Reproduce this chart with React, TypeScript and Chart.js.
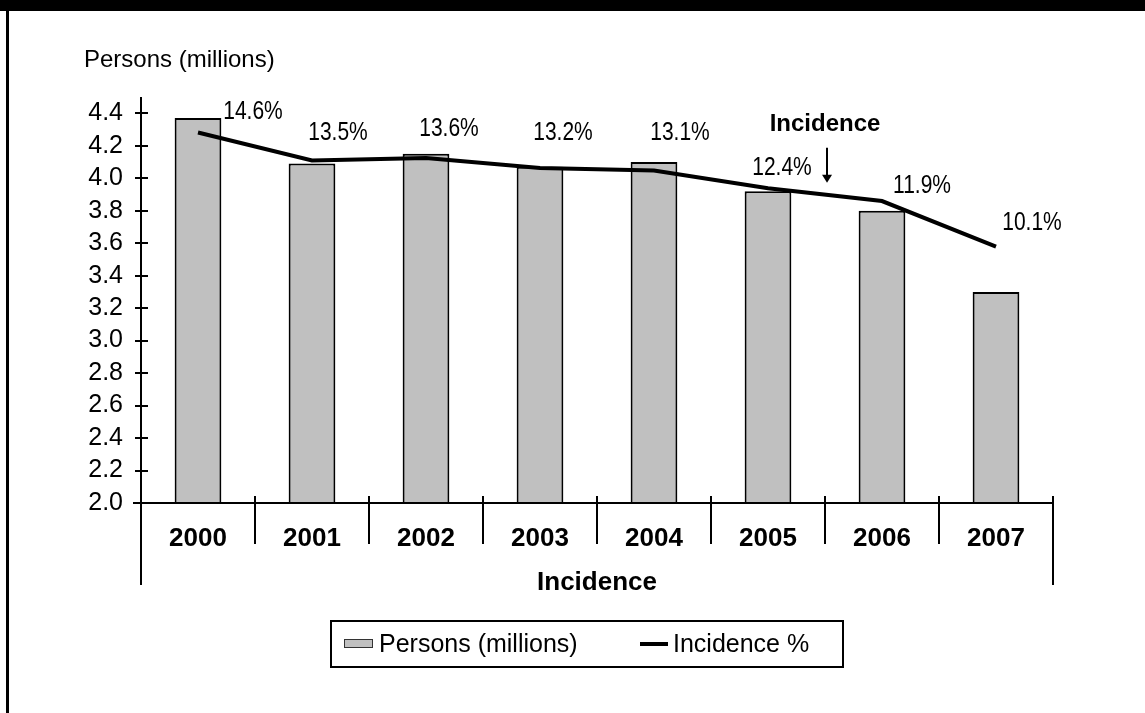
import React, { useEffect, useRef } from 'react';
import { Chart, registerables } from 'chart.js';

Chart.register(...registerables);

const years = ['2000', '2001', '2002', '2003', '2004', '2005', '2006', '2007'];
const persons = [4.37, 4.09, 4.15, 4.07, 4.1, 3.92, 3.8, 3.3];
const incidence = [14.6, 13.5, 13.6, 13.2, 13.1, 12.4, 11.9, 10.1];
const incidenceLabels = ['14.6%', '13.5%', '13.6%', '13.2%', '13.1%', '12.4%', '11.9%', '10.1%'];
const yTickValues = [2.0, 2.2, 2.4, 2.6, 2.8, 3.0, 3.2, 3.4, 3.6, 3.8, 4.0, 4.2, 4.4];

// label nudges (pixels) relative to each line point: [dx, dy]
const labelNudges = [
  [55, -20], [26, -27], [23, -29], [23, -35], [26, -37], [14, -20], [40, -15], [36, -24],
];

const FONT = '"Liberation Sans", Arial, "DejaVu Sans", sans-serif';
const BAR_FILL = '#C0C0C0';

const decorPlugin = {
  id: 'decor',
  beforeDraw(chart: any) {
    const { ctx, width, height } = chart;
    ctx.save();
    ctx.fillStyle = '#ffffff';
    ctx.fillRect(0, 0, width, height);
    ctx.fillStyle = '#000000';
    ctx.fillRect(0, 0, width, 11);
    ctx.fillRect(6, 0, 3, height);
    ctx.restore();
  },
  afterDraw(chart: any) {
    const { ctx, chartArea } = chart;
    const xs = chart.scales.x;
    const ys = chart.scales.y;
    const y1 = chart.scales.y1;
    const { left, right, top, bottom } = chartArea;
    ctx.save();
    ctx.strokeStyle = '#000';
    ctx.lineWidth = 2;
    ctx.lineCap = 'butt';

    // y axis line
    ctx.beginPath();
    ctx.moveTo(left, top);
    ctx.lineTo(left, bottom + 82);
    ctx.stroke();
    // x axis line
    ctx.beginPath();
    ctx.moveTo(left - 8, bottom);
    ctx.lineTo(right, bottom);
    ctx.stroke();
    // y tick marks (crossing)
    yTickValues.forEach((v) => {
      const py = Math.round(ys.getPixelForValue(v));
      ctx.beginPath();
      ctx.moveTo(left - 6, py);
      ctx.lineTo(left + 7, py);
      ctx.stroke();
    });
    // category separators
    const half = (xs.getPixelForValue(1) - xs.getPixelForValue(0)) / 2;
    for (let i = 0; i < years.length; i++) {
      const px = Math.round(xs.getPixelForValue(i) + half);
      ctx.beginPath();
      ctx.moveTo(px, bottom - 7);
      ctx.lineTo(px, i === years.length - 1 ? bottom + 82 : bottom + 41);
      ctx.stroke();
    }

    // data labels for incidence
    ctx.fillStyle = '#000';
    ctx.font = `25px ${FONT}`;
    ctx.textAlign = 'center';
    ctx.textBaseline = 'middle';
    incidence.forEach((v, i) => {
      const px = xs.getPixelForValue(i) + labelNudges[i][0];
      const py = y1.getPixelForValue(v) + labelNudges[i][1];
      ctx.save();
      ctx.translate(px, py);
      ctx.scale(0.84, 1);
      ctx.fillText(incidenceLabels[i], 0, 0);
      ctx.restore();
    });

    // annotation "Incidence" with arrow
    const ax = Math.round((xs.getPixelForValue(5) + xs.getPixelForValue(6)) / 2) + 2;
    const lineY = y1.getPixelForValue((incidence[5] + incidence[6]) / 2);
    const tipY = lineY - 12;
    const tailY = tipY - 35;
    ctx.beginPath();
    ctx.moveTo(ax, tailY);
    ctx.lineTo(ax, tipY - 6);
    ctx.stroke();
    ctx.beginPath();
    ctx.moveTo(ax - 5, tipY - 8);
    ctx.lineTo(ax + 5, tipY - 8);
    ctx.lineTo(ax, tipY);
    ctx.closePath();
    ctx.fill();
    ctx.font = `bold 24px ${FONT}`;
    ctx.fillText('Incidence', ax - 2, tailY - 23);

    // y axis title
    ctx.font = `24px ${FONT}`;
    ctx.textAlign = 'left';
    ctx.fillText('Persons (millions)', left - 57, top - 37);

    // legend
    const lx = Math.round((left + right) / 2) - 266;
    const ly = bottom + 118;
    const lw = 512;
    const lh = 46;
    ctx.lineWidth = 2;
    ctx.strokeRect(lx, ly, lw, lh);
    const cy = ly + lh / 2;
    const barDs = chart.data.datasets[1];
    const lineDs = chart.data.datasets[0];
    ctx.fillStyle = barDs.backgroundColor;
    ctx.fillRect(lx + 13, cy - 5, 29, 9);
    ctx.lineWidth = 1;
    ctx.strokeStyle = '#333';
    ctx.strokeRect(lx + 13.5, cy - 4.5, 28, 8);
    ctx.fillStyle = '#000';
    ctx.font = `25px ${FONT}`;
    ctx.textBaseline = 'middle';
    ctx.fillText(barDs.label, lx + 48, cy + 1);
    ctx.strokeStyle = lineDs.borderColor;
    ctx.lineWidth = 4;
    ctx.beginPath();
    ctx.moveTo(lx + 309, cy);
    ctx.lineTo(lx + 337, cy);
    ctx.stroke();
    ctx.fillText(lineDs.label, lx + 342, cy + 1);

    ctx.restore();
  },
};

export default function App() {
  const ref = useRef<HTMLCanvasElement | null>(null);
  useEffect(() => {
    if (!ref.current) return;
    const chart = new Chart(ref.current, {
      type: 'bar',
      data: {
        labels: years,
        datasets: [
          {
            type: 'line',
            label: 'Incidence %',
            data: incidence,
            yAxisID: 'y1',
            borderColor: '#000000',
            backgroundColor: '#000000',
            borderWidth: 4,
            pointRadius: 0,
            tension: 0,
            order: 0,
          } as any,
          {
            type: 'bar',
            label: 'Persons (millions)',
            data: persons,
            yAxisID: 'y',
            backgroundColor: BAR_FILL,
            borderColor: '#000000',
            borderWidth: 2,
            categoryPercentage: 1,
            barPercentage: 0.41,
            order: 1,
          } as any,
        ],
      },
      options: {
        responsive: false,
        animation: false,
        layout: { padding: { left: 0, right: 92, top: 97, bottom: 115 } },
        plugins: {
          legend: { display: false },
          tooltip: { enabled: false },
          title: { display: false },
        },
        scales: {
          x: {
            grid: { display: false, drawTicks: false },
            border: { display: false },
            ticks: {
              color: '#000',
              font: { family: FONT, size: 26, weight: 'bold' },
              padding: 20,
              maxRotation: 0,
              autoSkip: false,
            },
            title: {
              display: true,
              text: 'Incidence',
              color: '#000',
              font: { family: FONT, size: 26, weight: 'bold' },
              padding: { top: 0, bottom: 0 },
            },
            afterFit: (s: any) => {
              s.height = 95;
            },
          },
          y: {
            min: 2,
            max: 4.5,
            afterBuildTicks: (s: any) => {
              s.ticks = yTickValues.map((v) => ({ value: v }));
            },
            grid: { display: false, drawTicks: false },
            border: { display: false },
            ticks: {
              color: '#000',
              font: { family: FONT, size: 25 },
              padding: 18,
              callback: (v: any) => Number(v).toFixed(1),
            },
            afterFit: (s: any) => {
              s.width = 141;
            },
          },
          y1: {
            display: false,
            min: 0,
            max: 16,
          },
        },
      } as any,
      plugins: [decorPlugin],
    });
    return () => chart.destroy();
  }, []);

  return (
    <div style={{ position: 'absolute', left: 0, top: 0, width: 1145, height: 713 }}>
      <canvas ref={ref} width={1145} height={713} />
    </div>
  );
}
